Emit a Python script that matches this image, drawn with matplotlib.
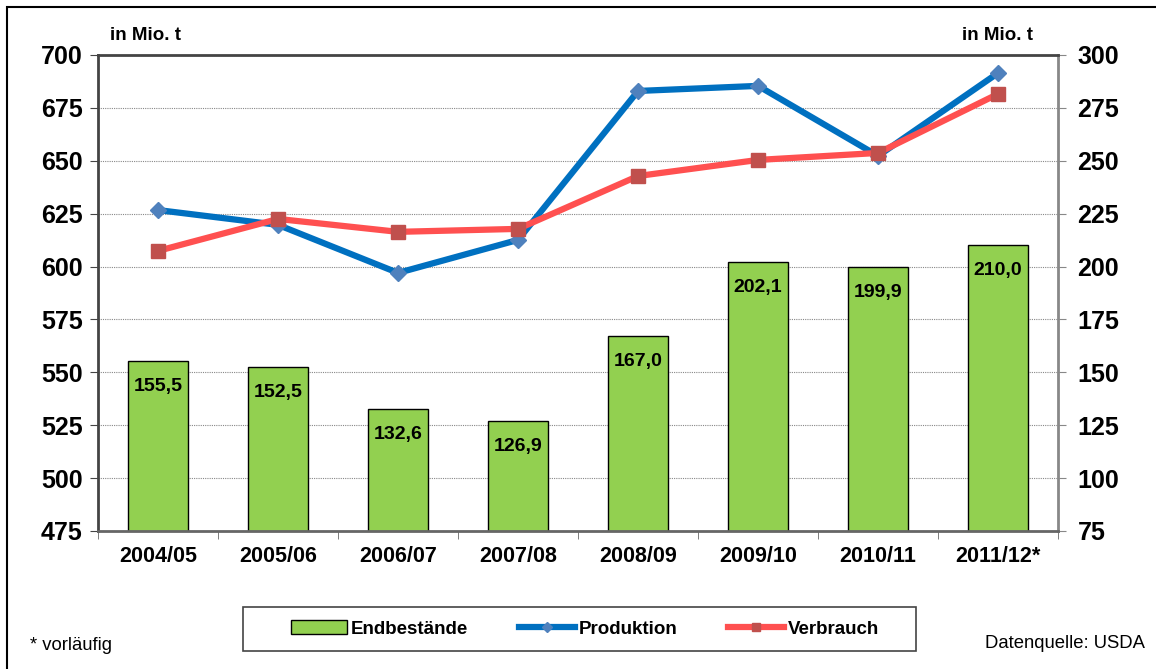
import numpy as np
import matplotlib
matplotlib.use("Agg")
import matplotlib.pyplot as plt
from matplotlib.patches import Rectangle

plt.rcParams['font.family'] = ['Liberation Sans', 'DejaVu Sans']

# data
jahre = ["2004/05", "2005/06", "2006/07", "2007/08", "2008/09", "2009/10", "2010/11", "2011/12*"]
endbestaende = [155.5, 152.5, 132.6, 126.9, 167.0, 202.1, 199.9, 210.0]
produktion = [626.7, 619.7, 597.0, 612.6, 683.0, 685.4, 652.3, 691.5]
verbrauch = [607.4, 622.5, 616.4, 617.8, 642.8, 650.4, 653.7, 681.6]
bar_labels = ["155,5", "152,5", "132,6", "126,9", "167,0", "202,1", "199,9", "210,0"]

x = np.arange(len(jahre))

fig = plt.figure(figsize=(11.56, 6.69), dpi=100)
ax = fig.add_axes([0.0848, 0.2063, 0.8305, 0.7115])
ax2 = ax.twinx()

# bars on right axis (behind lines)
ax2.set_ylim(75, 300)
ax2.set_yticks(np.arange(75, 301, 25))
ax2.grid(axis='y', color='#888888', linestyle=(0, (1, 1)), linewidth=0.8)
ax2.set_axisbelow(True)
ax2.bar(x, endbestaende, width=0.5, color='#92D050', edgecolor='black', linewidth=1.0, zorder=2, label='Endbestände')
for xi, v, lab in zip(x, endbestaende, bar_labels):
    ax2.text(xi, v - 12, lab, ha='center', va='center', fontsize=14, fontweight='bold', zorder=3)

# lines on left axis, on top
ax.set_zorder(ax2.get_zorder() + 1)
ax.patch.set_visible(False)
ax.plot(x, produktion, color='#0070C0', linewidth=4.5, marker='D', markersize=8,
        markerfacecolor='#4F81BD', markeredgecolor='#4F81BD', label='Produktion', zorder=4)
ax.plot(x, verbrauch, color='#FF5050', linewidth=4.5, marker='s', markersize=10,
        markerfacecolor='#C0504D', markeredgecolor='#C0504D', label='Verbrauch', zorder=5)

ax.set_xlim(-0.5, len(jahre) - 0.5)
ax.set_ylim(475, 700)
ax.set_yticks(np.arange(475, 701, 25))
ax.set_xticks(x)
ax.set_xticklabels(jahre, fontsize=15.5, fontweight='bold')
ax.set_xticks(np.arange(-0.5, len(jahre), 1), minor=True)
ax.tick_params(axis='x', which='major', length=0, pad=11)
ax.tick_params(axis='x', which='minor', length=6, direction='out', color='#666666')
ax.tick_params(axis='y', labelsize=18, length=6, direction='out', color='#444444', pad=5)
ax2.tick_params(axis='y', labelsize=18, length=6, direction='out', color='#888888', pad=8)
for t in ax.get_yticklabels() + ax2.get_yticklabels():
    t.set_fontweight('bold')

ax.spines['left'].set_color('#444444')
ax.spines['left'].set_linewidth(2)
ax.spines['bottom'].set_color('#666666')
ax.spines['bottom'].set_linewidth(2)
ax.spines['top'].set_color('#444444')
ax.spines['top'].set_linewidth(2)
ax.spines['right'].set_color('#888888')
ax.spines['right'].set_linewidth(2)
for s in ax2.spines.values():
    s.set_visible(False)

fig.text(110 / 1156, 1 - 35 / 669, "in Mio. t", fontsize=13.5, fontweight='bold', va='center')
fig.text(962 / 1156, 1 - 35 / 669, "in Mio. t", fontsize=13.5, fontweight='bold', va='center')
fig.text(30 / 1156, 1 - 645 / 669, "* vorläufig", fontsize=13.3, va='center')
fig.text(1145 / 1156, 1 - 643 / 669, "Datenquelle: USDA", fontsize=13.3, va='center', ha='right')

# legend box
fig.patches.append(Rectangle((243 / 1156, 1 - 651 / 669), 673 / 1156, 44 / 669, transform=fig.transFigure,
                             fill=False, edgecolor='#444444', linewidth=1.2))
h1, l1 = ax2.get_legend_handles_labels()
h2, l2 = ax.get_legend_handles_labels()
leg = fig.legend(h1 + h2, l1 + l2, loc='center', bbox_to_anchor=(585 / 1156, 1 - 629 / 669),
                 ncol=3, frameon=False, prop={'weight': 'bold', 'size': 13.5},
                 handlelength=3.0, columnspacing=2.7, handletextpad=0.2, markerscale=0.6)

# outer border
fig.patches.append(Rectangle((7 / 1156, -0.01), 1.02, 1 - 7 / 669 + 0.01, transform=fig.transFigure,
                             fill=False, edgecolor='black', linewidth=1.5))

fig.savefig("out.png", dpi=100)
